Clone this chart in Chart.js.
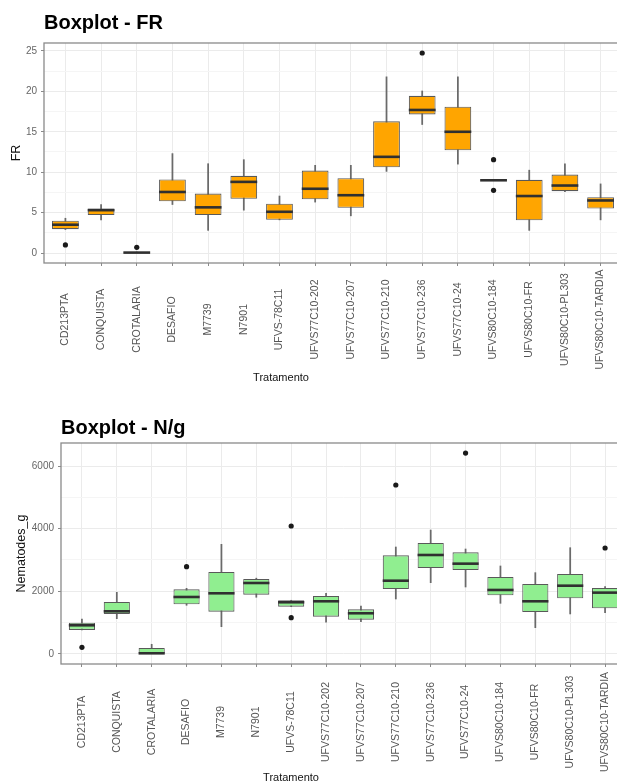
<!DOCTYPE html>
<html><head><meta charset="utf-8">
<script src="https://cdn.jsdelivr.net/npm/chart.js@4/dist/chart.umd.min.js"></script>
<style>
html,body{margin:0;padding:0;background:#fff;overflow:hidden;width:617px;height:783px}
#c1{position:absolute;left:0;top:0}
#c2{position:absolute;left:0;top:400px}
</style></head><body>
<canvas id="c1" width="626" height="400" style="width:626px;height:400px"></canvas>
<canvas id="c2" width="632" height="383" style="width:632px;height:383px"></canvas>
<script>
const categories = ['CD213PTA','CONQUISTA','CROTALARIA','DESAFIO','M7739','N7901','UFVS-78C11','UFVS77C10-202','UFVS77C10-207','UFVS77C10-210','UFVS77C10-236','UFVS77C10-24','UFVS80C10-184','UFVS80C10-FR','UFVS80C10-PL303','UFVS80C10-TARDIA'];

// FR
const frLow  = [2.9, 4.1, 0.0, 6.0, 2.8, 5.3, 4.1, 6.3, 4.6, 10.1, 15.9, 11.0, 9.0, 2.8, 7.6, 4.1];
const frQ1   = [2.95, 4.7, 0.0, 6.4, 4.7, 6.7, 4.1, 6.65, 5.6, 10.6, 17.15, 12.7, 9.0, 4.05, 7.65, 5.5];
const frMed  = [3.5, 5.3, 0.05, 7.55, 5.65, 8.8, 5.1, 7.95, 7.15, 11.9, 17.7, 15.0, 9.0, 7.05, 8.35, 6.5];
const frQ3   = [4.0, 5.5, 0.12, 9.1, 7.35, 9.55, 6.1, 10.2, 9.25, 16.3, 19.45, 18.1, 9.0, 9.05, 9.7, 6.9];
const frHigh = [4.3, 6.0, 0.12, 12.3, 11.05, 11.55, 7.05, 10.85, 10.85, 21.8, 20.05, 21.8, 9.0, 10.25, 11.05, 8.55];
const frOutCat = ['CD213PTA','CROTALARIA','UFVS77C10-236','UFVS80C10-184','UFVS80C10-184'];
const frOutVal = [1.0, 0.7, 24.75, 11.55, 7.75];
const frTicks = [0, 5, 10, 15, 20, 25];
const frMinor = [2.5, 7.5, 12.5, 17.5, 22.5];

// N/g
const ngLow  = [766, 1127, 0, 1554, 871, 1810, 1510, 1012, 1032, 1755, 2276, 2138, 1617, 840, 1277, 1319];
const ngQ1   = [766, 1277, 0, 1586, 1350, 1893, 1510, 1191, 1095, 2074, 2745, 2681, 1872, 1340, 1777, 1458];
const ngMed  = [915, 1362, 21, 1819, 1937, 2266, 1650, 1682, 1299, 2339, 3160, 2883, 2043, 1682, 2180, 1958];
const ngQ3   = [999, 1660, 191, 2065, 2617, 2394, 1714, 1851, 1426, 3150, 3543, 3245, 2457, 2234, 2553, 2106];
const ngHigh = [1117, 1968, 309, 2096, 3501, 2420, 1714, 1937, 1532, 3415, 3957, 3351, 2809, 2596, 3393, 2150];
const ngOutCat = ['CD213PTA','DESAFIO','UFVS-78C11','UFVS-78C11','UFVS77C10-210','UFVS77C10-24','UFVS80C10-TARDIA'];
const ngOutVal = [213, 2786, 4085, 1159, 5394, 6415, 3383];
const ngTicks = [0, 2000, 4000, 6000];
const ngMinor = [1000, 3000, 5000];

Chart.defaults.font.family = '"Liberation Sans", Arial, sans-serif';

const decor = {
  id: 'decor',
  afterDatasetsDraw(chart, args, o) {
    const {ctx, chartArea: a} = chart;
    ctx.save();
    ctx.strokeStyle = '#8a8a8a';
    ctx.lineWidth = 1.3;
    ctx.strokeRect(a.left, a.top, a.right - a.left, a.bottom - a.top);
    ctx.restore();
  },
  afterDraw(chart, args, o) {
    const ctx = chart.ctx;
    const xs = chart.scales.x;
    ctx.save();
    ctx.fillStyle = '#000';
    ctx.font = 'bold 20px "Liberation Sans", Arial, sans-serif';
    ctx.textAlign = 'left';
    ctx.textBaseline = 'alphabetic';
    ctx.fillText(o.title, o.titleX, o.titleY);
    ctx.font = '10.5px "Liberation Sans", Arial, sans-serif';
    ctx.fillStyle = '#555';
    ctx.textAlign = 'center';
    ctx.textBaseline = 'middle';
    o.labels.forEach((lab, i) => {
      const px = xs.getPixelForValue(i);
      ctx.save();
      ctx.translate(px, o.labelY);
      ctx.rotate(-Math.PI / 2);
      ctx.fillText(lab, 0, 0);
      ctx.restore();
    });
    ctx.font = '11px "Liberation Sans", Arial, sans-serif';
    ctx.fillStyle = '#111';
    ctx.fillText(o.xTitle, o.xTitleX, o.xTitleY);
    ctx.restore();
  }
};

function boxChart(id, s) {
  const idx = categories.map((c, i) => i);
  const whisk = idx.map(i => ({x: i, y: [s.low[i], s.high[i]]}));
  const boxes = idx.map(i => ({x: i, y: [s.q1[i], s.q3[i]]}));
  const meds = idx.map(i => ({x: i, y: s.med[i]}));
  const outs = s.outCat.map((c, k) => ({x: categories.indexOf(c), y: s.outVal[k]}));
  const allY = s.ticks.concat(s.minor).sort((a, b) => a - b);
  return new Chart(document.getElementById(id), {
    type: 'bar',
    data: {
      datasets: [
        {type: 'line', data: outs, showLine: false, pointRadius: 2.6, pointBackgroundColor: '#1a1a1a', pointBorderWidth: 0, order: 1},
        {type: 'line', data: meds, showLine: false, pointStyle: 'line', pointRadius: s.medHalf, pointBorderWidth: 2.6, pointBorderColor: '#303030', order: 2},
        {type: 'bar', data: boxes, grouped: false, categoryPercentage: 1, barPercentage: 0.75, backgroundColor: s.fill, borderColor: '#595959', borderWidth: 1.1, borderSkipped: false, order: 3},
        {type: 'bar', data: whisk, grouped: false, maxBarThickness: 1.1, barThickness: 1.1, backgroundColor: '#6a6a6a', borderWidth: 0, order: 4}
      ]
    },
    options: {
      responsive: false,
      animation: false,
      events: [],
      layout: {padding: s.pad, autoPadding: false},
      plugins: {
        legend: {display: false},
        tooltip: {enabled: false},
        decor: {title: s.title, titleX: s.titleX, titleY: s.titleY, labels: categories, labelY: s.labelY,
                xTitle: 'Tratamento', xTitleX: s.xTitleX, xTitleY: s.xTitleY}
      },
      scales: {
        x: {
          type: 'linear', min: -0.6, max: categories.length - 0.4, offset: false,
          afterBuildTicks: ax => { ax.ticks = idx.map(v => ({value: v})); },
          afterFit: sc => { sc.height = s.xH; },
          ticks: {display: false},
          grid: {offset: false, color: '#ebebeb', lineWidth: 1, drawTicks: true, tickLength: 3, tickColor: '#8a8a8a'},
          border: {display: false}
        },
        y: {
          min: s.yMin, max: s.yMax,
          afterBuildTicks: ax => { ax.ticks = allY.map(v => ({value: v})); },
          afterFit: sc => { sc.width = s.yW; },
          ticks: {
            color: '#666', font: {size: 10}, padding: 4,
            callback: v => s.ticks.includes(v) ? String(v) : ''
          },
          grid: {
            color: c => s.ticks.includes(c.tick.value) ? '#ebebeb' : '#f5f5f5',
            tickColor: c => s.ticks.includes(c.tick.value) ? '#8a8a8a' : 'rgba(0,0,0,0)',
            lineWidth: 1, tickLength: 3
          },
          border: {display: false},
          title: {display: true, text: s.yTitle, color: '#111', font: {size: 12.5}, padding: {top: s.yTitlePad, bottom: 0}}
        }
      }
    },
    plugins: [decor]
  });
}

boxChart('c1', {
  low: frLow, q1: frQ1, med: frMed, q3: frQ3, high: frHigh, outCat: frOutCat, outVal: frOutVal,
  ticks: frTicks, minor: frMinor, yMin: -1.2375, yMax: 25.9875, fill: '#FFA500', medHalf: 13.4,
  pad: {top: 43, right: 4, bottom: 0, left: 0}, xH: 137, yW: 44,
  title: 'Boxplot - FR', titleX: 44, titleY: 29, labelY: 319.5, xTitleX: 281, xTitleY: 378,
  yTitle: 'FR', yTitlePad: 9.5
});

boxChart('c2', {
  low: ngLow, q1: ngQ1, med: ngMed, q3: ngQ3, high: ngHigh, outCat: ngOutCat, outVal: ngOutVal,
  ticks: ngTicks, minor: ngMinor, yMin: -320.75, yMax: 6735.75, fill: '#90EE90', medHalf: 13.1,
  pad: {top: 43, right: 6, bottom: 0, left: 0}, xH: 119, yW: 61,
  title: 'Boxplot - N/g', titleX: 61, titleY: 34, labelY: 322, xTitleX: 291, xTitleY: 378,
  yTitle: 'Nematodes_g', yTitlePad: 14.5
});
</script>
</body></html>
